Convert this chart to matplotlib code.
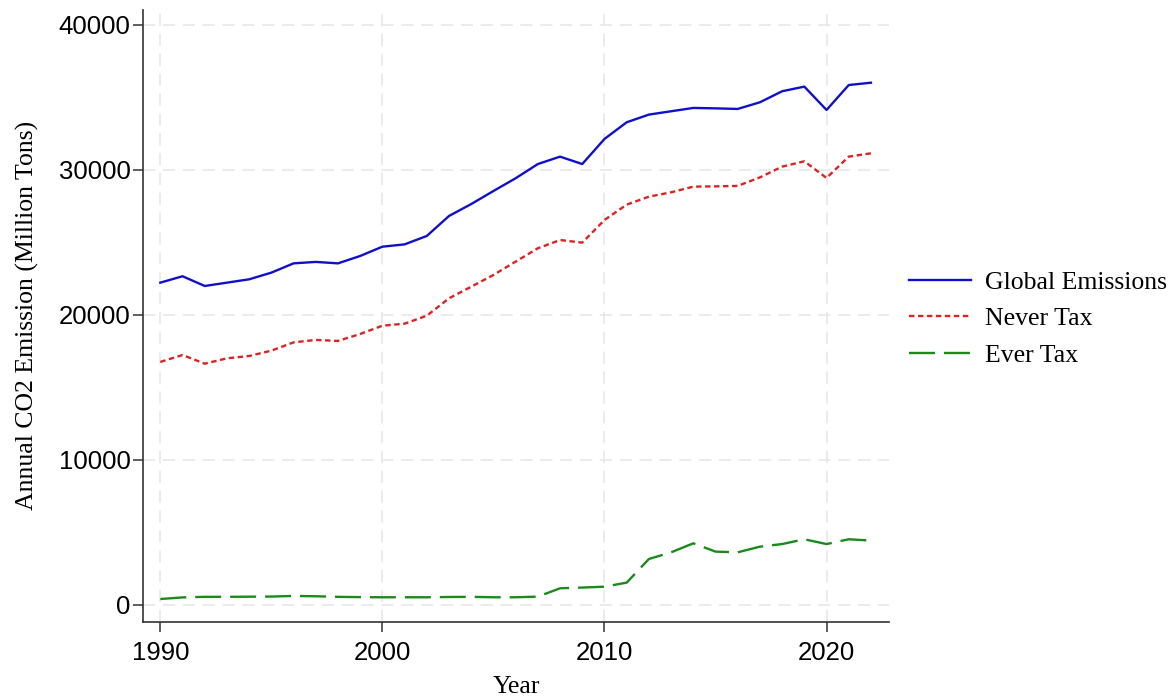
import matplotlib
matplotlib.use("Agg")
import matplotlib.pyplot as plt

years = list(range(1990, 2023))
global_emissions = [22230, 22670, 22000, 22230, 22460, 22920, 23560, 23660, 23560, 24070,
                    24710, 24870, 25450, 26830, 27650, 28550, 29430, 30410, 30920, 30410,
                    32140, 33290, 33820, 34050, 34280, 34250, 34210, 34670, 35430, 35750,
                    34140, 35860, 36020]
never_tax = [16760, 17240, 16640, 17010, 17170, 17540, 18110, 18280, 18210, 18690,
             19260, 19400, 19950, 21150, 21950, 22760, 23680, 24600, 25170, 24990,
             26550, 27610, 28160, 28460, 28850, 28870, 28900, 29490, 30230, 30600,
             29450, 30920, 31150]
ever_tax = [410, 520, 560, 560, 570, 580, 620, 600, 560, 540,
            530, 530, 530, 550, 560, 530, 530, 575, 1150, 1200,
            1260, 1540, 3170, 3630, 4250, 3680, 3630, 4020, 4200, 4530,
            4200, 4530, 4440]
series_labels = ["Global Emissions", "Never Tax", "Ever Tax"]
x_ticks = [1990, 2000, 2010, 2020]
y_ticks = [0, 10000, 20000, 30000, 40000]

SANS = "Liberation Sans"
SERIF = "Liberation Serif"

fig = plt.figure(figsize=(11.74, 6.98), dpi=100)
ax = fig.add_axes([0.122, 0.109, 0.635, 0.877])

ax.plot(years, global_emissions, color="#1010cc", lw=1.7, label=series_labels[0])
ax.plot(years, never_tax, color="#dd2222", lw=1.7, dashes=(2.3, 1.5), label=series_labels[1])
ax.plot(years, ever_tax, color="#1a8a1a", lw=1.7, dashes=(11, 3.8), label=series_labels[2])

ax.set_xlim(1989.23, 2022.8)
ax.set_ylim(-1170, 41050)
ax.set_xticks(x_ticks)
ax.set_yticks(y_ticks)
ax.set_xticklabels([str(t) for t in x_ticks], fontfamily=SANS, fontsize=18.5)
ax.set_yticklabels([str(t) for t in y_ticks], fontfamily=SANS, fontsize=18.5)
ax.tick_params(axis="both", direction="out", length=7.5, width=1.1, color="#333333")
ax.tick_params(axis="y", pad=1.5)
ax.tick_params(axis="x", pad=6)

ax.grid(True, color="#e6e6e6", lw=1.1, dashes=(8, 5))
ax.set_axisbelow(True)
for s in ["top", "right"]:
    ax.spines[s].set_visible(False)
for s in ["left", "bottom"]:
    ax.spines[s].set_color("#333333")
    ax.spines[s].set_linewidth(1.2)

ax.set_xlabel("Year", fontfamily=SERIF, fontsize=18.5, labelpad=8)
ax.set_ylabel("Annual CO2 Emission (Million Tons)", fontfamily=SERIF, fontsize=18.5, labelpad=14)

leg = ax.legend(loc="center left", bbox_to_anchor=(1.0, 0.495), frameon=False,
                prop={"family": SERIF, "size": 18.5}, handlelength=2.4,
                handletextpad=0.55, labelspacing=0.52, borderaxespad=0.4)

fig.savefig("out.png", dpi=100, facecolor="white")
